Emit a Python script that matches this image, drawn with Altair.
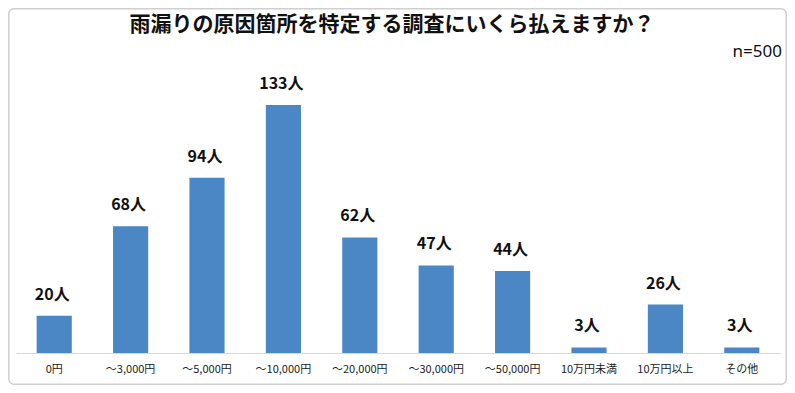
import altair as alt
import pandas as pd

categories = ["0円", "～3,000円", "～5,000円", "～10,000円", "～20,000円",
              "～30,000円", "～50,000円", "10万円未満", "10万円以上", "その他"]
counts = [20, 68, 94, 133, 62, 47, 44, 3, 26, 3]

title_text = "雨漏りの原因箇所を特定する調査にいくら払えますか？"
n_text = "n=500"

df = pd.DataFrame({"cat": categories, "count": counts})

FONT = "Noto Sans CJK JP"
W, H = 764, 261

base = alt.Chart(df).encode(
    x=alt.X("cat:N", sort=categories,
            scale=alt.Scale(paddingInner=0.54, paddingOuter=0.27),
            axis=alt.Axis(title=None, labelAngle=0, ticks=False, domainColor="#d9d9d9",
                          labelFont=FONT, labelFontSize=11, labelColor="#222222",
                          labelPadding=10)),
    y=alt.Y("count:Q", scale=alt.Scale(domain=[0, 140]), axis=None),
)

bars = base.mark_bar(color="#4a87c4")
labels = base.transform_calculate(lbl="datum.count + '人'").mark_text(
    font=FONT, fontSize=16, fontWeight="bold", baseline="alphabetic", dy=-16, dx=-2,
    color="#111111"
).encode(text="lbl:N")

one = pd.DataFrame({"t": [n_text]})
ntext = alt.Chart(one).mark_text(
    font="Noto Sans", fontSize=17, align="right", baseline="middle", color="#111111"
).encode(x=alt.value(766), y=alt.value(-40), text="t:N")

tdf = pd.DataFrame({"t": [title_text]})
title = alt.Chart(tdf).mark_text(
    font=FONT, fontSize=21, fontWeight="bold", align="center", baseline="middle", color="#111111"
).encode(x=alt.value(376), y=alt.value(-67), text="t:N")

border = alt.Chart(pd.DataFrame({"a": [0]})).mark_rect(
    fill="transparent", stroke="#cfcfcf", strokeWidth=1.5, cornerRadius=5
).encode(x=alt.value(-7.2), x2=alt.value(770.2), y=alt.value(-83.2), y2=alt.value(292.2))

chart = alt.layer(border, bars, labels, ntext, title).properties(
    width=W, height=H,
    background="white",
    autosize=alt.AutoSizeParams(type="none"),
    padding={"left": 8, "right": 7, "top": 84, "bottom": 32},
).configure_view(strokeWidth=0)

chart.save("out.html", embed_options={"renderer": "svg", "actions": False})
